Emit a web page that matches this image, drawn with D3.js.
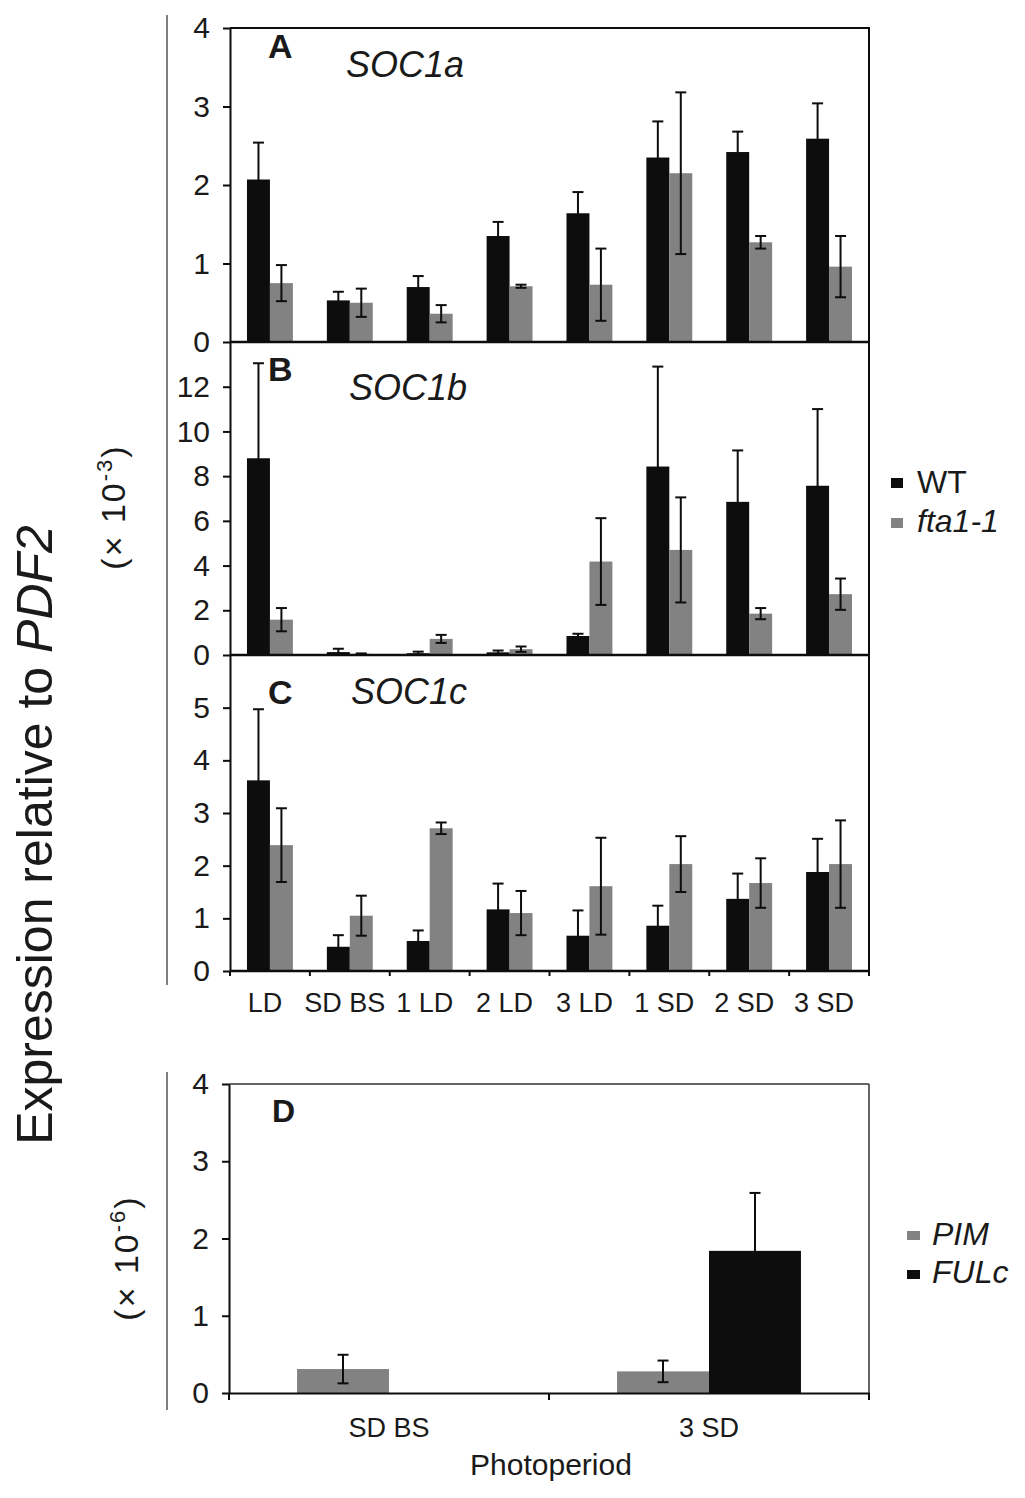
<!DOCTYPE html>
<html>
<head>
<meta charset="utf-8">
<script src="https://cdn.jsdelivr.net/npm/d3@7"></script>
<style>
  body { margin: 0; background: #fff; }
  text { font-family: "Liberation Sans", Arial, sans-serif; fill: #1a1a1a; }
</style>
</head>
<body>
<div class="canvas"></div>
<script>
// categories and series
const categories = ["LD", "SD BS", "1 LD", "2 LD", "3 LD", "1 SD", "2 SD", "3 SD"];
const series = ["WT", "fta1-1"];

// SOC1a (x 10^-3)
const soc1aWT = [2.07, 0.53, 0.70, 1.35, 1.64, 2.35, 2.42, 2.59];
const soc1aWTErr = [0.47, 0.11, 0.14, 0.18, 0.27, 0.46, 0.26, 0.45];
const soc1aFta = [0.75, 0.50, 0.36, 0.71, 0.73, 2.15, 1.27, 0.96];
const soc1aFtaErr = [0.23, 0.18, 0.11, 0.02, 0.46, 1.03, 0.08, 0.39];

// SOC1b
const soc1bWT = [8.8, 0.13, 0.08, 0.12, 0.85, 8.43, 6.85, 7.57];
const soc1bWTErr = [4.25, 0.15, 0.07, 0.08, 0.10, 4.47, 2.3, 3.43];
const soc1bFta = [1.58, 0.05, 0.72, 0.26, 4.18, 4.70, 1.85, 2.72];
const soc1bFtaErr = [0.52, 0.02, 0.18, 0.12, 1.94, 2.35, 0.25, 0.70];

// SOC1c
const soc1cWT = [3.62, 0.46, 0.57, 1.17, 0.67, 0.86, 1.37, 1.88];
const soc1cWTErr = [1.35, 0.22, 0.20, 0.49, 0.48, 0.38, 0.48, 0.63];
const soc1cFta = [2.39, 1.05, 2.71, 1.10, 1.61, 2.03, 1.67, 2.03];
const soc1cFtaErr = [0.70, 0.38, 0.11, 0.42, 0.92, 0.53, 0.47, 0.83];

// panel D (x 10^-6)
const dCategories = ["SD BS", "3 SD"];
const dSeries = ["PIM", "FULc"];
const pimValues = [0.31, 0.28];
const pimErr = [0.185, 0.14];
const fulcValues = [0, 1.84];
const fulcErr = [0, 0.75];

// tick labels
const socATicks = [0, 1, 2, 3, 4];
const socBTicks = [0, 2, 4, 6, 8, 10, 12];
const socCTicks = [0, 1, 2, 3, 4, 5];
const dTicks = [0, 1, 2, 3, 4];

const black = "#0d0d0d", grey = "#828282";

const svg = d3.select('.canvas')
  .append('svg')
    .attr('width', 1025)
    .attr('height', 1498);

// x scales for panels A-C
const x0 = d3.scaleBand().domain(categories).range([230, 869]);
const x1 = d3.scaleBand().domain(series).range([0, x0.bandwidth()])
  .paddingInner(0).paddingOuter(0.74);
const colour = d3.scaleOrdinal().domain(series).range([black, grey]);

const panels = [
  {letter: "A", gene: "SOC1a", wt: soc1aWT, wtErr: soc1aWTErr, fta: soc1aFta, ftaErr: soc1aFtaErr,
   top: 28, bottom: 342, max: 4, ticks: socATicks, letterY: 58, geneX: 346, geneY: 77},
  {letter: "B", gene: "SOC1b", wt: soc1bWT, wtErr: soc1bWTErr, fta: soc1bFta, ftaErr: soc1bFtaErr,
   top: 342, bottom: 655, max: 14, ticks: socBTicks, letterY: 381, geneX: 349, geneY: 400},
  {letter: "C", gene: "SOC1c", wt: soc1cWT, wtErr: soc1cWTErr, fta: soc1cFta, ftaErr: soc1cFtaErr,
   top: 655, bottom: 971, max: 6, ticks: socCTicks, letterY: 704, geneX: 351, geneY: 704}
];

function errorBars(g, data, y, width) {
  const eb = g.selectAll(null).data(data.filter(d => d.err > 0)).enter().append("g")
    .attr("stroke", black).attr("stroke-width", 2);
  eb.append("line")
    .attr("x1", d => d.x).attr("x2", d => d.x)
    .attr("y1", d => y(d.value + d.err)).attr("y2", d => y(Math.max(0, d.value - d.err)));
  eb.append("line")
    .attr("x1", d => d.x - width / 2).attr("x2", d => d.x + width / 2)
    .attr("y1", d => y(d.value + d.err)).attr("y2", d => y(d.value + d.err));
  eb.append("line")
    .attr("x1", d => d.x - width / 2).attr("x2", d => d.x + width / 2)
    .attr("y1", d => y(Math.max(0, d.value - d.err))).attr("y2", d => y(Math.max(0, d.value - d.err)));
}

function styleYAxis(ya) {
  ya.select(".domain").attr("stroke", black).attr("stroke-width", 2);
  ya.selectAll(".tick line").attr("stroke", black).attr("stroke-width", 2);
  ya.selectAll(".tick text").style("font-size", "30px").attr("fill", "#1a1a1a")
    .attr("font-family", "Liberation Sans, Arial, sans-serif");
}

panels.forEach((p, pi) => {
  const y = d3.scaleLinear().domain([0, p.max]).range([p.bottom, p.top]);
  const g = svg.append("g");

  const rows = [];
  categories.forEach((c, i) => {
    rows.push({cat: c, s: "WT", value: p.wt[i], err: p.wtErr[i]});
    rows.push({cat: c, s: "fta1-1", value: p.fta[i], err: p.ftaErr[i]});
  });
  rows.forEach(d => d.x = x0(d.cat) + x1(d.s) + x1.bandwidth() / 2);

  // bars
  g.selectAll("rect").data(rows).enter().append("rect")
    .attr("x", d => x0(d.cat) + x1(d.s))
    .attr("y", d => y(d.value))
    .attr("width", x1.bandwidth())
    .attr("height", d => y(0) - y(d.value))
    .attr("fill", d => colour(d.s));

  errorBars(g, rows, y, 11);

  // y axis
  const ya = g.append("g")
    .attr("transform", "translate(230,0)")
    .call(d3.axisLeft(y).tickValues(p.ticks).tickFormat(d3.format("d"))
      .tickSize(7).tickSizeOuter(0).tickPadding(13));
  styleYAxis(ya);

  // box: baseline, right edge, top
  g.append("line").attr("x1", 230).attr("x2", 869).attr("y1", y(0)).attr("y2", y(0))
    .attr("stroke", black).attr("stroke-width", 2.5);
  g.append("line").attr("x1", 869).attr("x2", 869).attr("y1", p.top).attr("y2", p.bottom)
    .attr("stroke", black).attr("stroke-width", 2);
  if (pi === 0) {
    g.append("line").attr("x1", 230).attr("x2", 870).attr("y1", p.top).attr("y2", p.top)
      .attr("stroke", black).attr("stroke-width", 2);
  }

  // panel letter + gene name
  g.append("text").attr("x", 268).attr("y", p.letterY).text(p.letter)
    .style("font-size", "34px").style("font-weight", "bold").attr("fill", "#000");
  g.append("text").attr("x", p.geneX).attr("y", p.geneY).text(p.gene)
    .style("font-size", "36px").style("font-style", "italic");

  // category labels under the last panel
  if (pi === panels.length - 1) {
    const xa = g.append("g")
      .attr("transform", `translate(0,${y(0)})`)
      .call(d3.axisBottom(x0).tickSize(0).tickPadding(22));
    xa.select(".domain").remove();
    xa.selectAll(".tick text").style("font-size", "27px").attr("dx", -5).attr("dy", "0.71em")
      .attr("fill", "#1a1a1a").attr("font-family", "Liberation Sans, Arial, sans-serif");
    g.selectAll(null).data(categories.concat(["end"])).enter().append("line")
      .attr("x1", (d, i) => i < categories.length ? x0(d) : 869)
      .attr("x2", (d, i) => i < categories.length ? x0(d) : 869)
      .attr("y1", y(0)).attr("y2", y(0) + 5)
      .attr("stroke", black).attr("stroke-width", 2);
  }
});

// legend A-C
const legAC = svg.append("g");
series.forEach((s, i) => {
  legAC.append("rect").attr("x", 891).attr("y", 478 + i * 40).attr("width", 12).attr("height", 10)
    .attr("fill", colour(s));
  legAC.append("text").attr("x", 917).attr("y", 493 + i * 39).text(s)
    .style("font-size", "32px").style("font-style", i === 1 ? "italic" : "normal");
});

// panel D
const xd0 = d3.scaleBand().domain(dCategories).range([229, 869]);
const xd1 = d3.scaleBand().domain(dSeries).range([0, xd0.bandwidth()])
  .paddingInner(0).paddingOuter(0.74);
const colourD = d3.scaleOrdinal().domain(dSeries).range([grey, black]);
const yd = d3.scaleLinear().domain([0, 4]).range([1393, 1084]);
const gD = svg.append("g");

const dRows = [];
dCategories.forEach((c, i) => {
  dRows.push({cat: c, s: "PIM", value: pimValues[i], err: pimErr[i]});
  dRows.push({cat: c, s: "FULc", value: fulcValues[i], err: fulcErr[i]});
});
dRows.forEach(d => d.x = xd0(d.cat) + xd1(d.s) + xd1.bandwidth() / 2);

gD.append("line").attr("x1", 229).attr("x2", 869).attr("y1", 1084).attr("y2", 1084)
  .attr("stroke", "#333").attr("stroke-width", 1.5);
gD.append("line").attr("x1", 869).attr("x2", 869).attr("y1", 1084).attr("y2", 1393)
  .attr("stroke", "#333").attr("stroke-width", 1.5);

gD.selectAll("rect").data(dRows.filter(d => d.value > 0)).enter().append("rect")
  .attr("x", d => xd0(d.cat) + xd1(d.s))
  .attr("y", d => yd(d.value))
  .attr("width", xd1.bandwidth())
  .attr("height", d => yd(0) - yd(d.value))
  .attr("fill", d => colourD(d.s));

errorBars(gD, dRows, yd, 11);

const yda = gD.append("g")
  .attr("transform", "translate(229,0)")
  .call(d3.axisLeft(yd).tickValues(dTicks).tickFormat(d3.format("d"))
    .tickSize(7).tickSizeOuter(0).tickPadding(13));
styleYAxis(yda);

const xda = gD.append("g")
  .attr("transform", "translate(0,1393)")
  .call(d3.axisBottom(xd0).tickSize(0).tickPadding(25));
xda.select(".domain").attr("stroke", black).attr("stroke-width", 2);
xda.selectAll(".tick text").style("font-size", "27px").attr("dy", "0.71em")
  .attr("fill", "#1a1a1a").attr("font-family", "Liberation Sans, Arial, sans-serif");
gD.selectAll(null).data(dCategories.concat(["end"])).enter().append("line")
  .attr("x1", (d, i) => i < dCategories.length ? xd0(d) : 869)
  .attr("x2", (d, i) => i < dCategories.length ? xd0(d) : 869)
  .attr("y1", 1393).attr("y2", 1400)
  .attr("stroke", black).attr("stroke-width", 2);

gD.append("text").attr("x", 272).attr("y", 1122).text("D")
  .style("font-size", "32px").style("font-weight", "bold").attr("fill", "#000");

svg.append("text").attr("x", 551).attr("y", 1475).attr("text-anchor", "middle")
  .text("Photoperiod").style("font-size", "30px");

// legend D
dSeries.forEach((s, i) => {
  gD.append("rect").attr("x", 907).attr("y", 1231 + i * 39).attr("width", 13).attr("height", 9)
    .attr("fill", colourD(s));
  gD.append("text").attr("x", 932).attr("y", 1245 + i * 38).text(s)
    .style("font-size", "32px").style("font-style", "italic");
});

// left brackets
svg.append("line").attr("x1", 167).attr("x2", 167).attr("y1", 15).attr("y2", 985)
  .attr("stroke", "#555").attr("stroke-width", 1.5);
svg.append("line").attr("x1", 167).attr("x2", 167).attr("y1", 1072).attr("y2", 1410)
  .attr("stroke", "#555").attr("stroke-width", 1.5);

// y titles
const yt = svg.append("text")
  .attr("transform", "translate(52,835) rotate(-90)")
  .attr("text-anchor", "middle")
  .style("font-size", "50px");
yt.append("tspan").text("Expression relative to ");
yt.append("tspan").text("PDF2").style("font-style", "italic");

function scaleLabel(x, y, exp) {
  const t = svg.append("text")
    .attr("transform", `translate(${x},${y}) rotate(-90)`)
    .attr("text-anchor", "middle")
    .style("font-size", "34px")
    .style("letter-spacing", "2px");
  t.append("tspan").text("(\u00d7 10");
  t.append("tspan").text(exp).attr("dy", -13).style("font-size", "22px");
  t.append("tspan").text(")").attr("dy", 13);
}
scaleLabel(125, 507, "-3");
scaleLabel(138, 1258, "-6");
</script>
</body>
</html>
